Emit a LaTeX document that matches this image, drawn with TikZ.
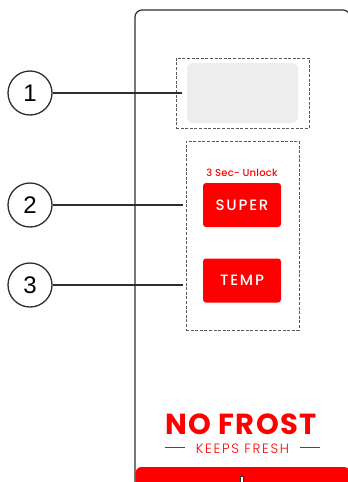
\documentclass[tikz,border=0pt]{standalone}
\usepackage{fontspec}
\setmainfont{Poppins}[BoldFont={* Bold}]
\newfontfamily\numfont{Liberation Sans}
\newfontfamily\medfont{Poppins Medium}[LetterSpace=2]
\newfontfamily\spacedfont{Poppins Medium}[LetterSpace=12]
\newfontfamily\keepsfont{Poppins Light}[LetterSpace=12]
\newfontfamily\brandfont{Poppins}[BoldFont={* Bold},LetterSpace=5]
\usetikzlibrary{calc}
\definecolor{brandred}{HTML}{FF0000}
\definecolor{outline}{HTML}{2E2E2E}
\definecolor{screen}{HTML}{EDEDED}
\begin{document}
\begin{tikzpicture}[x=1pt,y=-1pt,
  callout/.style={circle,draw=outline,line width=1.3pt,minimum size=44pt,inner sep=0pt,font=\numfont\fontsize{24}{24}\selectfont},
  leader/.style={draw=outline,line width=1.7pt},
  zone/.style={draw=black!65,line width=0.7pt,dash pattern=on 3pt off 1.6pt},
  keybtn/.style={fill=brandred,rounded corners=3pt,minimum width=78pt,minimum height=44pt,inner sep=0pt,text=white,font=\spacedfont\fontsize{15}{15}\selectfont}]
\useasboundingbox (0,0) rectangle (348,482);
\begin{scope}
\clip (0,0) rectangle (348,482);
% front panel with red base strip
\fill[brandred,rounded corners=6pt] (135.5,467) rectangle (350,486);
\fill[white] (135.5,464) rectangle (350,467);
\draw[outline,line width=1.2pt,rounded corners=7pt] (135,484) -- (135,10) -- (350,10) -- (350,484);
\draw[outline,fill=white,line width=0.6pt] (240.5,476) rectangle (243.5,484);
\end{scope}
% display area
\node[zone,minimum width=133pt,minimum height=70pt,inner sep=0pt] (dispzone) at (242.5,93) {};
\node[fill=screen,rounded corners=6pt,minimum width=111pt,minimum height=60pt,inner sep=0pt] (display) at (242.5,93) {};
% key area
\node[zone,minimum width=113pt,minimum height=189pt,inner sep=0pt] (keyzone) at (242.5,235.5) {};
\node[text=brandred,font=\medfont\fontsize{10}{10}\selectfont,inner sep=0pt] (unlock) at (242,172.5) {3 Sec- Unlock};
\node[keybtn] (super) at (242,205) {SUPER};
\node[keybtn] (temp) at (242,280.5) {TEMP};
% brand
\node[anchor=base,text=brandred,font=\brandfont\fontsize{29}{29}\selectfont\bfseries,inner sep=0pt,text height=20pt,text depth=0pt] (nofrost) at (241,434.5) {NO FROST};
\node[anchor=base,text=brandred,font=\keepsfont\fontsize{13.5}{13.5}\selectfont,inner sep=0pt,text height=10pt,text depth=0pt] (keeps) at (242.5,453) {KEEPS FRESH};
\coordinate (kl1) at (165,447);
\coordinate (kl2) at (185,447);
\coordinate (kr1) at (300,447);
\coordinate (kr2) at (320,447);
\draw[brandred,line width=0.8pt] (kl1) -- (kl2) (kr1) -- (kr2);
% callouts
\node[callout] (c1) at (30,93) {1};
\node[callout] (c2) at (30,205) {2};
\node[callout] (c3) at (30,285) {3};
\coordinate (e1) at (182,93);
\coordinate (e2) at (183,205);
\coordinate (e3) at (183,285);
\draw[leader] (c1) -- (e1);
\draw[leader] (c2) -- (e2);
\draw[leader] (c3) -- (e3);
\end{tikzpicture}
\end{document}
